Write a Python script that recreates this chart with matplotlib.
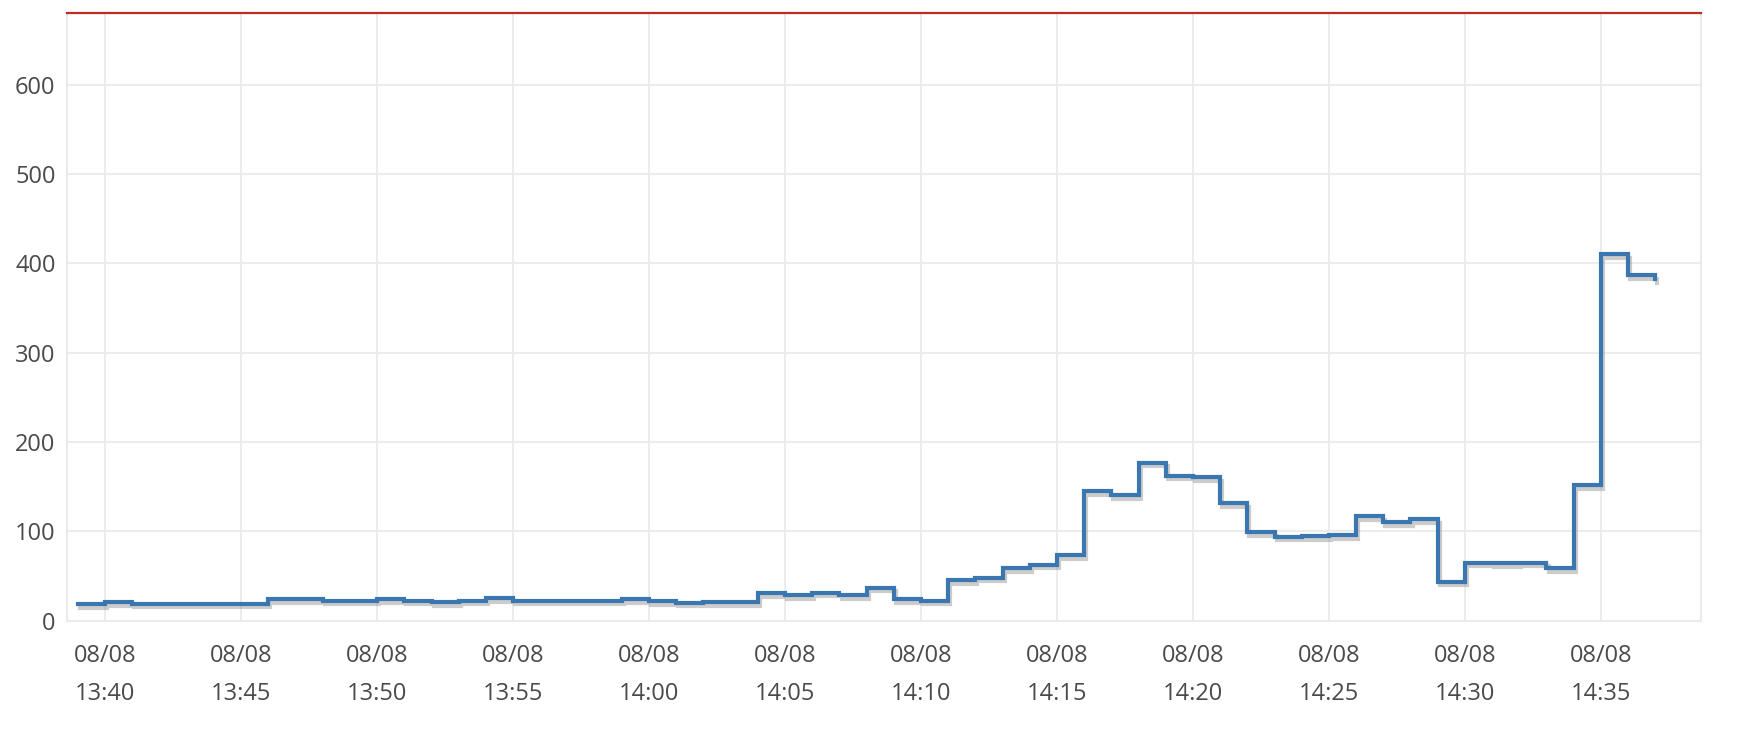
import matplotlib
matplotlib.use("Agg")
import matplotlib.pyplot as plt
import matplotlib.patheffects as pe
import pandas as pd

# ---- data -------------------------------------------------------------
start_time = "2023-08-08 13:39"
values = [
    18.4, 20.9, 19.0, 19.0, 19.0, 19.0, 19.0, 23.9, 23.9, 22.4,   # 13:39-13:48
    22.4, 24.3, 22.4, 20.9, 22.4, 25.4, 22.4, 22.4, 22.4, 22.4,   # 13:49-13:58
    23.9, 21.7, 20.2, 20.9, 20.9, 31.0, 28.4, 31.3, 28.4, 36.9,   # 13:59-14:08
    23.9, 22.6, 45.6, 48.1, 59.0, 62.7, 73.2, 145.2, 140.4, 176.9,  # 14:09-14:18
    162.4, 160.9, 131.4, 99.0, 94.0, 94.8, 95.9, 117.2, 110.2, 113.9,  # 14:19-14:28
    43.5, 64.9, 64.2, 64.9, 58.7, 151.9, 410.2, 387.0, 382.0,     # 14:29-14:37
]
times = pd.date_range(start_time, periods=len(values), freq="1min")
y_ticks = [0, 100, 200, 300, 400, 500, 600]
x_tick_times = pd.date_range("2023-08-08 13:40", "2023-08-08 14:35", freq="5min")
x_min, x_max = "2023-08-08 13:38:35", "2023-08-08 14:38:41"
y_max = 680.6

# ---- figure -----------------------------------------------------------
plt.rcParams["font.family"] = ["Open Sans", "DejaVu Sans"]
fig = plt.figure(figsize=(17.48, 7.5), dpi=100)
ax = fig.add_axes([66.7 / 1748, 1 - 620.7 / 750, (1701 - 66.7) / 1748, (620.7 - 12.7) / 750])

ax.plot(times, values, drawstyle="steps-post", color="#3a76af", lw=3.0,
        solid_joinstyle="miter",
        path_effects=[pe.SimpleLineShadow(offset=(1.5, -2.6), shadow_color="#9a9a9a", alpha=0.5),
                      pe.Normal()], zorder=3)

ax.set_xlim(pd.Timestamp(x_min), pd.Timestamp(x_max))
ax.set_ylim(0, y_max)
ax.set_yticks(y_ticks)
ax.set_xticks(x_tick_times)
ax.set_xticklabels([t.strftime("%m/%d\n%H:%M") for t in x_tick_times], linespacing=1.75)

grid_c = "#ebebeb"
ax.grid(True, color=grid_c, lw=1.3, zorder=0)
for s in ["left", "bottom", "right"]:
    ax.spines[s].set_color(grid_c)
    ax.spines[s].set_linewidth(1.5)
ax.spines["top"].set_color("#c22a27")
ax.spines["top"].set_linewidth(1.6)

ax.tick_params(axis="both", length=0, labelsize=17, labelcolor="#4a4a4a")
ax.tick_params(axis="y", pad=8)
ax.tick_params(axis="x", pad=17)

fig.savefig("out.png", dpi=100, facecolor="white")
